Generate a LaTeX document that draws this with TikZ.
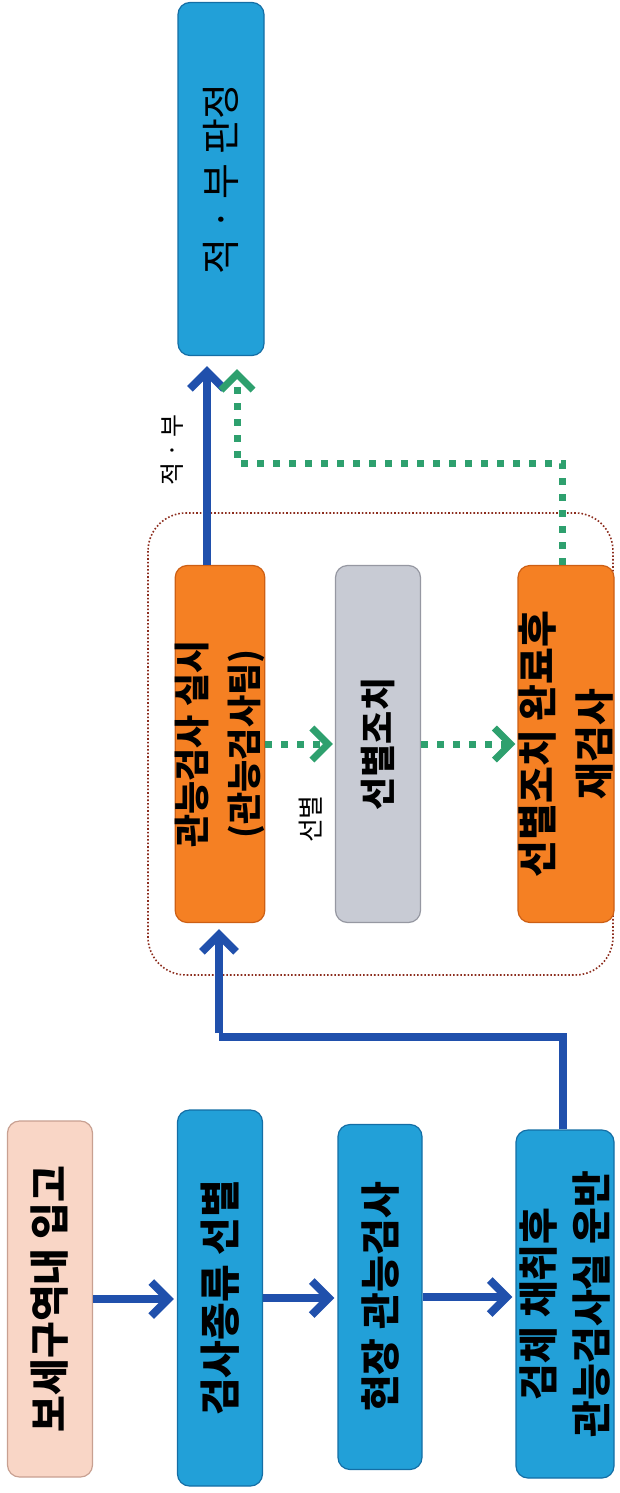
\documentclass[tikz,border=0pt]{standalone}
\usepackage{fontspec}
\setmainfont{Noto Sans CJK KR}
\usetikzlibrary{arrows.meta,calc}
\definecolor{boxblue}{RGB}{34,160,216}
\definecolor{boxblueD}{RGB}{20,110,165}
\definecolor{boxpink}{RGB}{249,214,198}
\definecolor{boxpinkD}{RGB}{200,160,145}
\definecolor{boxorange}{RGB}{245,128,35}
\definecolor{boxorangeD}{RGB}{205,95,20}
\definecolor{boxgray}{RGB}{200,203,212}
\definecolor{boxgrayD}{RGB}{150,152,162}
\definecolor{arrowblue}{RGB}{32,80,172}
\definecolor{arrowgreen}{RGB}{46,160,110}
\definecolor{framered}{RGB}{140,45,30}
\begin{document}
\begin{tikzpicture}[x=1pt,y=1pt,
  box/.style={rotate=90, rounded corners=12pt, draw, line width=1.2pt, inner sep=0pt, align=center,
              font=\bfseries\fontsize{40}{53}\selectfont},
  bluebox/.style={box, fill=boxblue, draw=boxblueD},
  pinkbox/.style={box, fill=boxpink, draw=boxpinkD},
  orangebox/.style={box, fill=boxorange, draw=boxorangeD},
  graybox/.style={box, fill=boxgray, draw=boxgrayD},
  bluearrow/.style={draw=arrowblue, line width=8pt, -{Straight Barb[length=17pt,width=34pt]}, shorten >=3pt},
  bluelink/.style={draw=arrowblue, line width=8pt},
  greenarrow/.style={draw=arrowgreen, line width=7pt, dash pattern=on 7pt off 9pt, -{Straight Barb[length=16pt,width=32pt]}, shorten >=2pt},
  lbl/.style={rotate=90, font=\fontsize{26}{30}\selectfont},
  frame/.style={draw=framered, line width=1.6pt, dotted, rounded corners=38pt}
]
\useasboundingbox (0,0) rectangle (619,-1493);

% grouping frame
\draw[frame] (148,-513) rectangle (613,-975);

% first column of steps
\node[pinkbox, minimum width=356pt, minimum height=85pt] (A) at (50,-1299) {보세구역내 입고};
\node[bluebox, minimum width=376pt, minimum height=85pt, font=\bfseries\fontsize{41}{50}\selectfont] (B) at (220,-1298) {검사종류 선별};
\node[bluebox, minimum width=345pt, minimum height=84pt] (C) at (380,-1297) {현장 관능검사};
\node[bluebox, minimum width=348pt, minimum height=98pt] (D) at (565,-1304) {검체 채취후\\관능검사실 운반};

% inspection group
\node[orangebox, minimum width=357pt, minimum height=86pt, font=\bfseries\fontsize{36}{52}\selectfont] (E) at (220,-744)
  {관능검사 실시\\{\fontsize{35}{40}\selectfont(관능검사팀)}};
\node[graybox, minimum width=357pt, minimum height=85pt, font=\bfseries\fontsize{36}{40}\selectfont] (F) at (378,-744) {선별조치};
\node[orangebox, minimum width=357pt, minimum height=96pt, font=\bfseries\fontsize{40}{57}\selectfont] (G) at (566,-744) {선별조치 완료후\\재검사};

% judgement
\node[bluebox, minimum width=353pt, minimum height=86pt, font=\fontsize{39}{44}\selectfont] (H) at (221,-179) {적 · 부 판정};

% labels
\node[lbl] (l1) at (311,-819) {선별};
\node[lbl, font=\fontsize{25}{30}\selectfont] (l2) at (172,-450) {적 · 부};

% blue connectors
\draw[bluearrow] (A.south) -- (A.south -| B.north);
\draw[bluearrow] (B.south) -- (B.south -| C.north);
\draw[bluearrow] (C.south) -- (C.south -| D.north);
\coordinate (turn) at (219,-1037);
\draw[bluelink] ([xshift=-2pt]D.east) |- (turn);
\draw[bluearrow, shorten >=6pt] ([yshift=4pt]turn) -- (turn |- E.west);
\coordinate (eh) at (207,0);
\draw[bluearrow, shorten >=10pt] (E.east -| eh) -- (H.west -| eh);

% green connectors
\draw[greenarrow] (E.south) -- (E.south -| F.north);
\draw[greenarrow] (F.south) -- (F.south -| G.north);
\coordinate (gturn) at (237,-463);
\draw[greenarrow, shorten >=13pt] ([xshift=-4pt]G.east) |- (gturn) -- (gturn |- H.west);
\end{tikzpicture}
\end{document}
